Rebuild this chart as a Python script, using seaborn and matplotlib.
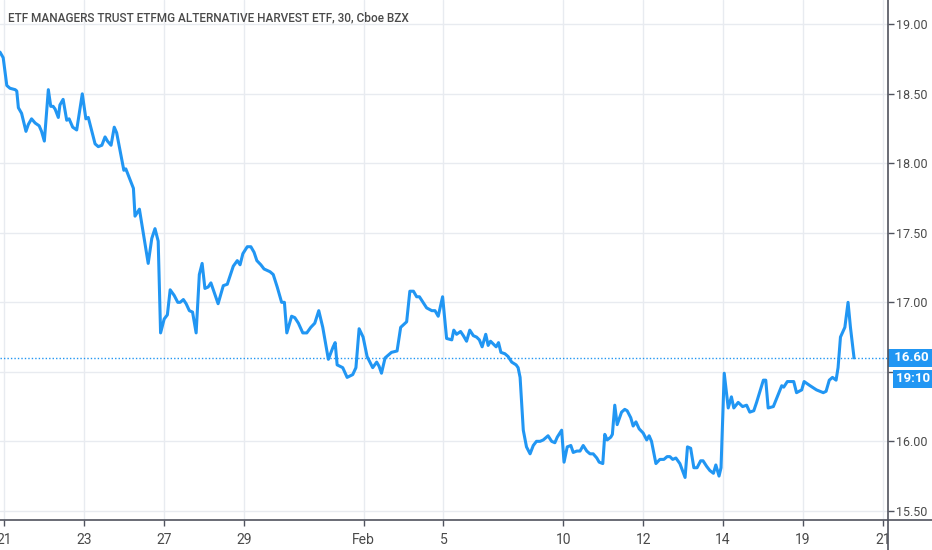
import numpy as np
import pandas as pd
import matplotlib.pyplot as plt
import seaborn as sns
from matplotlib.lines import Line2D

# 30 min bars, x = trading days since the Jan 21 open (weekends / holidays removed)
session = [
    -0.10, -0.02, 0.07, 0.15, 0.28, 0.32, 0.36, 0.44, 0.55, 0.61, 0.69, 0.78, 0.88, 0.94,
    1.01, 1.11, 1.17, 1.23, 1.28, 1.36, 1.40, 1.48, 1.57, 1.63, 1.72, 1.82, 1.96, 2.05, 2.11,
    2.28, 2.36, 2.45, 2.53, 2.59, 2.68, 2.76, 2.82, 2.92, 3.00, 3.05, 3.24,
    3.28, 3.39, 3.61, 3.70, 3.78, 3.86, 3.92, 4.01, 4.09, 4.16, 4.26, 4.35, 4.41, 4.49,
    4.56, 4.64, 4.72, 4.81, 4.89, 4.96, 5.03, 5.11, 5.18, 5.36, 5.49, 5.59, 5.74, 5.84,
    5.91, 5.98, 6.09, 6.18, 6.26, 6.33, 6.43, 6.51, 6.66, 6.74, 6.84, 6.95, 7.02, 7.08,
    7.20, 7.28, 7.37, 7.48, 7.58, 7.68, 7.78, 7.88, 7.98, 8.12, 8.24, 8.29, 8.34, 8.48,
    8.59, 8.73, 8.81, 8.89, 8.99, 9.09, 9.23, 9.33, 9.39, 9.45, 9.54, 9.70, 9.84, 9.93,
    10.08, 10.16, 10.25, 10.33, 10.40, 10.58, 10.71, 10.79, 10.87, 10.98,
    11.08, 11.21, 11.26, 11.33, 11.43, 11.50, 11.58, 11.66, 11.75, 11.83, 11.90, 11.97,
    12.06, 12.12, 12.18, 12.25, 12.32, 12.38, 12.44, 12.54, 12.62, 12.71, 12.82, 12.87,
    12.92, 13.00, 13.08, 13.17, 13.25, 13.33, 13.42, 13.50, 13.62, 13.71, 13.79, 13.85,
    13.96, 14.02, 14.10, 14.19, 14.25, 14.34, 14.42, 14.50, 14.59, 14.67, 14.75,
    14.84, 14.90, 14.99, 15.04, 15.10, 15.19, 15.23, 15.29, 15.35, 15.46, 15.54, 15.60,
    15.69, 15.75, 15.82, 15.90, 16.00, 16.09, 16.15, 16.21, 16.32, 16.42, 16.52, 16.60,
    16.67, 16.74, 16.82, 16.92, 17.05, 17.11, 17.19, 17.27, 17.35, 17.44, 17.50, 17.59,
    17.67, 17.76, 17.82, 17.90, 17.95, 18.03,
    18.13, 18.21, 18.27, 18.38, 18.49, 18.59, 18.67, 18.77, 18.84, 19.01, 19.07, 19.13,
    19.26, 19.47, 19.52, 19.61, 19.77, 19.84, 19.97, 20.03, 20.18, 20.34, 20.51, 20.58,
    20.66, 20.74, 20.83, 20.88, 20.94, 21.05, 21.13, 21.19, 21.28,
]
price = [
    18.80, 18.76, 18.56, 18.54, 18.53, 18.52, 18.40, 18.36, 18.23, 18.28, 18.32, 18.29, 18.27, 18.23,
    18.16, 18.53, 18.41, 18.41, 18.39, 18.33, 18.42, 18.46, 18.31, 18.32, 18.26, 18.24, 18.50, 18.32, 18.33,
    18.14, 18.12, 18.13, 18.19, 18.16, 18.13, 18.26, 18.22, 18.07, 17.95, 17.96, 17.82,
    17.62, 17.67, 17.28, 17.46, 17.53, 17.44, 16.78, 16.88, 16.91, 17.09, 17.05, 17.00, 17.00, 17.02,
    16.99, 16.94, 16.93, 16.78, 17.20, 17.28, 17.10, 17.11, 17.14, 16.99, 17.12, 17.13, 17.26, 17.30,
    17.27, 17.35, 17.40, 17.40, 17.36, 17.30, 17.27, 17.24, 17.22, 17.20, 17.11, 17.00, 17.00, 16.78,
    16.90, 16.89, 16.85, 16.78, 16.78, 16.82, 16.85, 16.94, 16.82, 16.59, 16.68, 16.71, 16.55, 16.53,
    16.46, 16.48, 16.53, 16.81, 16.75, 16.61, 16.53, 16.57, 16.54, 16.49, 16.60, 16.64, 16.65, 16.82,
    16.86, 17.08, 17.08, 17.04, 17.04, 16.96, 16.94, 16.94, 16.90, 17.04,
    16.74, 16.73, 16.80, 16.77, 16.79, 16.76, 16.72, 16.80, 16.76, 16.75, 16.73, 16.68,
    16.77, 16.69, 16.72, 16.70, 16.68, 16.71, 16.64, 16.63, 16.61, 16.57, 16.55, 16.53,
    16.46, 16.08, 15.96, 15.91, 15.97, 16.00, 16.00, 16.01, 16.04, 16.00, 15.99, 16.03,
    16.08, 15.85, 15.96, 15.97, 15.92, 15.93, 15.93, 15.97, 15.93, 15.91, 15.91,
    15.88, 15.85, 15.84, 16.05, 16.01, 16.03, 16.05, 16.26, 16.12, 16.21, 16.23, 16.22,
    16.17, 16.11, 16.14, 16.09, 16.06, 16.01, 16.04, 16.00, 15.84, 15.87, 15.87, 15.89,
    15.89, 15.87, 15.88, 15.84, 15.74, 15.96, 15.95, 15.81, 15.81, 15.86, 15.86, 15.82,
    15.79, 15.77, 15.83, 15.75, 15.81, 16.49,
    16.24, 16.32, 16.24, 16.28, 16.25, 16.26, 16.21, 16.22, 16.28, 16.44, 16.44, 16.24,
    16.25, 16.40, 16.39, 16.43, 16.43, 16.35, 16.37, 16.43, 16.40, 16.37, 16.35, 16.36,
    16.44, 16.46, 16.44, 16.53, 16.75, 16.82, 17.00, 16.82, 16.60,
]

tick_days = [0, 2, 4, 6, 9, 11, 14, 16, 18, 20, 22]
tick_labels = ["21", "23", "27", "29", "Feb", "5", "10", "12", "14", "19", "21"]
price_ticks = [15.5, 16.0, 16.5, 17.0, 17.5, 18.0, 18.5, 19.0]
# 16.50 sits under the price / countdown tags, so its label is not shown
price_labels = ["15.50", "16.00", "", "17.00", "17.50", "18.00", "18.50", "19.00"]

title = "ETF MANAGERS TRUST ETFMG ALTERNATIVE HARVEST ETF, 30, Cboe BZX"
countdown = "19:10"

blue = "#2196f3"
txt = "#4a4a4a"
axis_col = "#50535e"

sns.set_style("white")
plt.rcParams["font.family"] = ["Roboto", "DejaVu Sans"]

df = pd.DataFrame({"session": session, "price": price})

fig, ax = plt.subplots(figsize=(9.32, 5.5), dpi=100)
fig.subplots_adjust(left=0, right=888 / 932, bottom=1 - 520 / 550, top=1)

sns.lineplot(data=df, x="session", y="price", ax=ax, color=blue, lw=2.2,
             estimator=None, sort=False)

ax.set_xlim(-0.10, 22.13)
ax.set_ylim(15.434, 19.175)
ax.set_xlabel("")
ax.set_ylabel("")

ax.set_xticks(tick_days)
ax.set_xticklabels(tick_labels)
ax.set_yticks(price_ticks)
ax.set_yticklabels(price_labels)
ax.yaxis.tick_right()
ax.grid(True, color="#e8ebf0", lw=1)
for s in ax.spines.values():
    s.set_visible(False)

ax.tick_params(axis="x", bottom=True, length=4, width=1, color=axis_col,
               labelcolor=txt, labelsize=10, pad=5)
ax.tick_params(axis="y", right=True, left=False, length=4, width=1, color=axis_col,
               labelcolor=txt, labelsize=9, pad=2)

# price scale border lines across the whole image
fig.add_artist(Line2D([0, 1], [1 - 520 / 550] * 2, transform=fig.transFigure, color=axis_col, lw=1.2))
fig.add_artist(Line2D([888 / 932] * 2, [0, 1], transform=fig.transFigure, color=axis_col, lw=1.2))

# last price line + tags
last = price[-1]
ax.axhline(last, color=blue, lw=1, ls=(0, (1, 1.5)))
ax.annotate(f" {last:.2f}       ", xy=(1.0, last), xycoords=ax.get_yaxis_transform(),
            xytext=(3, 0), textcoords="offset pixels", ha="left", va="center",
            color="white", fontsize=9.5, fontweight="bold", annotation_clip=False,
            bbox=dict(boxstyle="square,pad=0.22", fc=blue, ec="none"), zorder=10)
ax.annotate(f"{countdown}       ", xy=(1.0, last), xycoords=ax.get_yaxis_transform(),
            xytext=(8, -21), textcoords="offset pixels", ha="left", va="center",
            color="white", fontsize=9.5, fontweight="bold", annotation_clip=False,
            bbox=dict(boxstyle="square,pad=0.22", fc=blue, ec="none"), zorder=10)

ax.text(8 / 888, 1 - 18 / 520, title, transform=ax.transAxes, ha="left", va="center",
        color=txt, fontsize=8.5, fontweight="medium")

plt.savefig("out.png", dpi=100, facecolor="white")
